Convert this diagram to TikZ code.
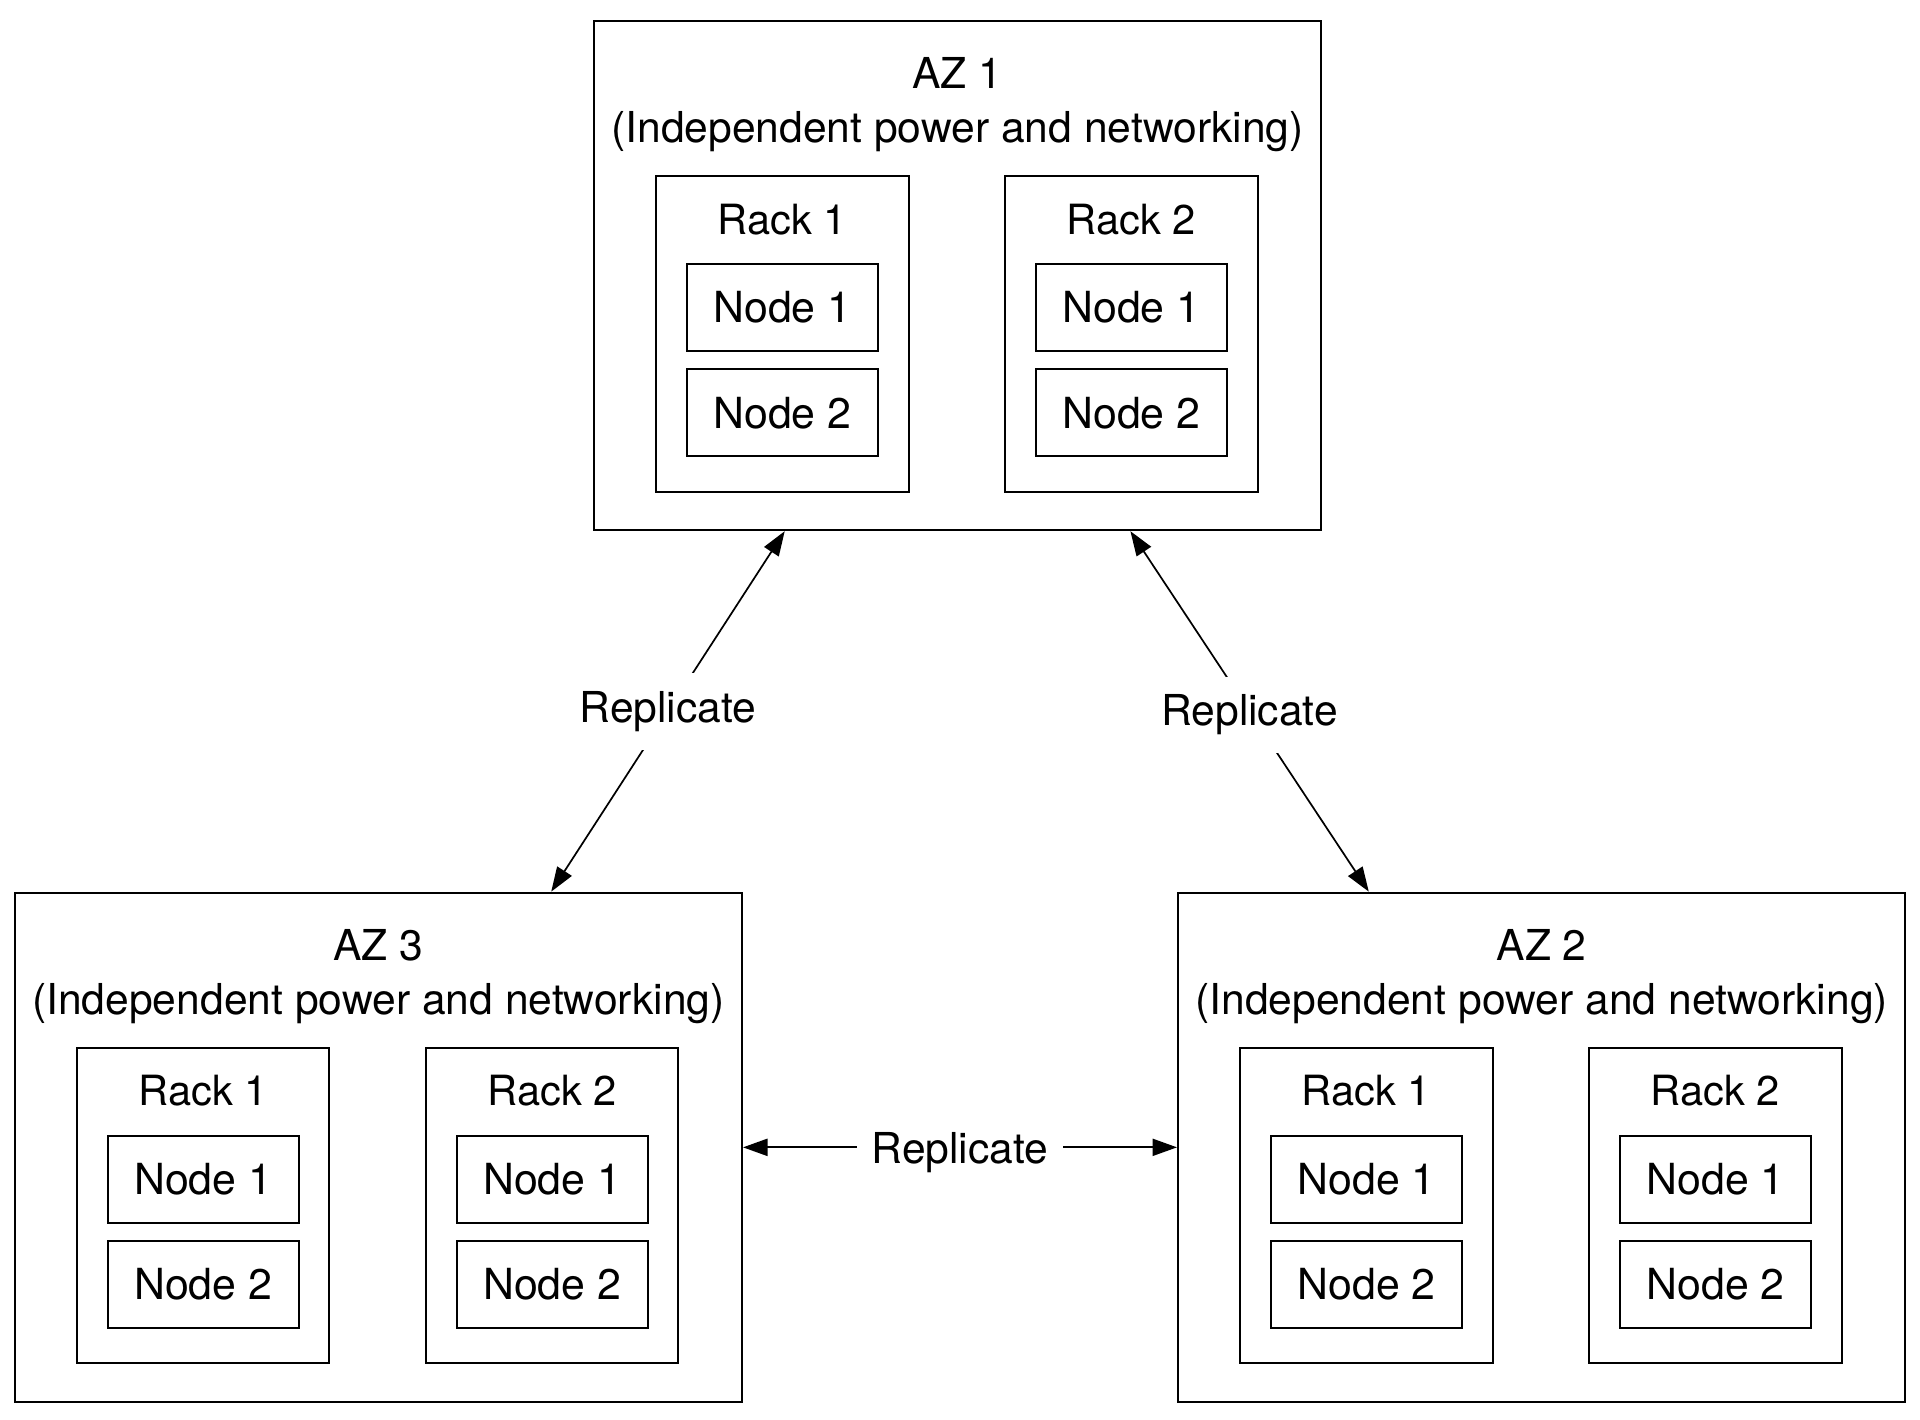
\documentclass[tikz,border=0pt]{standalone}
\usepackage{fontspec}
\setmainfont{TeX Gyre Heros}
\usetikzlibrary{calc,arrows.meta}
\newcommand\azfont{\fontsize{17.4}{20}\selectfont}
\newcommand\rkfont{\fontsize{17}{19}\selectfont}
\newcommand\ndfont{\fontsize{17.5}{20}\selectfont}
\begin{document}
\begin{tikzpicture}[x=0.5pt,y=-0.5pt,
  azbox/.style={draw, line width=0.8pt, minimum width=297pt, minimum height=208pt, inner sep=0pt},
  rackbox/.style={draw, line width=0.8pt, minimum width=103pt, minimum height=129pt, inner sep=0pt},
  nodebox/.style={draw, line width=0.8pt, minimum width=78pt, minimum height=35.5pt, inner sep=0pt, font=\ndfont, text height=12.6pt, text depth=0pt},
  azlbl/.style={inner sep=0pt, font=\azfont, text height=12.5pt, text depth=0pt},
  rklbl/.style={inner sep=0pt, font=\rkfont, text height=12.2pt, text depth=0pt},
  replbl/.style={fill=white, inner xsep=6pt, inner ysep=7.5pt, font=\azfont, text height=12.5pt, text depth=3.7pt},
  arr/.style={line width=0.7pt, {Triangle[length=10pt,width=7pt]}-{Triangle[length=10pt,width=7pt]}}
]
\useasboundingbox (0,0) rectangle (1568,1159);
\foreach \i/\cx/\cy in {1/782/225,2/1259/937,3/309/937}{
  \node[azbox] (az\i) at (\cx,\cy) {};
  \node[azlbl] (az\i-t) at (\cx,\cy-165) {AZ \i};
  \node[azlbl] (az\i-s) at (\cx,\cy-121) {(Independent power and networking)};
  \foreach \r/\dx in {1/-143,2/142}{
    \node[rackbox] (az\i-r\r) at (\cx+\dx,\cy+47.5) {};
    \node[rklbl] (az\i-r\r-t) at (\cx+\dx,\cy-46) {Rack \r};
    \node[nodebox] (az\i-r\r-n1) at (\cx+\dx,\cy+26) {Node 1};
    \node[nodebox] (az\i-r\r-n2) at (\cx+\dx,\cy+112) {Node 2};
  }
}
\draw[arr] ($(az1.south west)!0.263!(az1.south east)$) -- node[replbl] (rep1) {Replicate} ($(az3.north west)!0.737!(az3.north east)$);
\draw[arr] ($(az1.south west)!0.737!(az1.south east)$) -- node[replbl, yshift=-1.5pt] (rep2) {Replicate} ($(az2.north west)!0.263!(az2.north east)$);
\draw[arr] (az3.east) -- node[replbl, yshift=-2.3pt] (rep3) {Replicate} (az2.west);
\end{tikzpicture}
\end{document}
